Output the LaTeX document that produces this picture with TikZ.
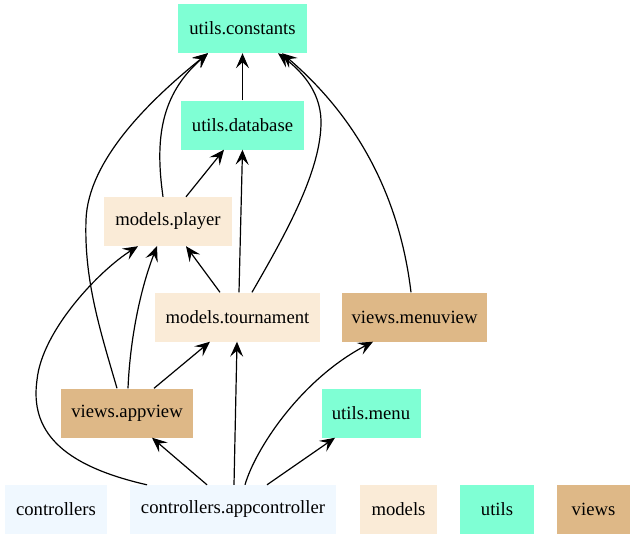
\documentclass[tikz,border=0pt]{standalone}
\usepackage{fontspec}
\setmainfont{Liberation Serif}
\newfontfamily\labelfont{Liberation Serif}
\usetikzlibrary{arrows.meta}
\definecolor{utilscol}{HTML}{7FFFD4}
\definecolor{modelscol}{HTML}{FAEBD7}
\definecolor{viewscol}{HTML}{DEB887}
\definecolor{ctrlcol}{HTML}{F0F8FF}
\tikzset{
  pkg/.style={rectangle, inner sep=0pt, minimum height=49pt,
    font=\labelfont\fontsize{18.67}{22}\selectfont, text=black},
  utilsbox/.style={pkg, fill=utilscol},
  modelsbox/.style={pkg, fill=modelscol},
  viewsbox/.style={pkg, fill=viewscol},
  ctrlbox/.style={pkg, fill=ctrlcol},
  dep/.style={draw=black, line width=1.2pt,
    -{Stealth[length=15pt, width=13pt, inset=6pt]}},
}
\begin{document}
\begin{tikzpicture}[x=1pt, y=-1pt]
\useasboundingbox (0,0) rectangle (635,539);

% modules
\node[utilsbox, minimum width=129pt] (constants) at (242.5,28.5) {utils.constants};
\node[utilsbox, minimum width=123pt] (database) at (242.5,125) {utils.database};
\node[modelsbox, minimum width=128pt] (player) at (168,221.5) {models.player};
\node[modelsbox, minimum width=165pt] (tournament) at (237.5,317) {models.tournament};
\node[viewsbox, minimum width=145pt] (menuview) at (414.5,317) {views.menuview};
\node[viewsbox, minimum width=132pt] (appview) at (127,413) {views.appview};
\node[utilsbox, minimum width=99pt] (menu) at (371,413) {utils.menu};
\node[ctrlbox, minimum width=102pt] (controllers) at (56,509.5) {controllers};
\node[ctrlbox, minimum width=206pt] (appcontroller) at (233,509.5) {controllers.appcontroller};

% package legend
\node[modelsbox, minimum width=77pt] (models) at (398.5,509.5) {models};
\node[utilsbox, minimum width=74pt] (utils) at (497,509.5) {utils};
\node[viewsbox, minimum width=73pt] (views) at (593.5,509.5) {views};

% imports
\draw[dep] (database.north) -- (constants.south);
\draw[dep] ([xshift=-5pt]player.north)
  .. controls (155,140) and (160,95) .. ([xshift=-34.5pt]constants.south);
\draw[dep] ([xshift=18pt]player.north) -- ([xshift=-18.5pt]database.south);
\draw[dep] ([xshift=1.5pt]tournament.north) -- (database.south);
\draw[dep] ([xshift=14.5pt]tournament.north)
  .. controls (285,235) and (322,170) .. (321,120)
  .. controls (320,90) and (300,70) .. ([xshift=35.5pt]constants.south);
\draw[dep] ([xshift=-17.5pt]tournament.north) -- ([xshift=18pt]player.south);
\draw[dep] ([xshift=-3.5pt]menuview.north)
  .. controls (400,200) and (360,120) .. ([xshift=39.5pt]constants.south);
\draw[dep] ([xshift=-10pt]appview.north)
  .. controls (100,330) and (84,280) .. (86,220)
  .. controls (88,160) and (150,100) .. ([xshift=-34.5pt]constants.south);
\draw[dep] ([xshift=1pt]appview.north)
  .. controls (130,340) and (140,290) .. ([xshift=-11pt]player.south);
\draw[dep] ([xshift=27pt]appview.north) -- ([xshift=-27.5pt]tournament.south);
\draw[dep] ([xshift=-26pt]appcontroller.north) -- ([xshift=25pt]appview.south);
\draw[dep] ([xshift=1pt]appcontroller.north) -- ([xshift=-0.5pt]tournament.south);
\draw[dep] ([xshift=12pt]appcontroller.north)
  .. controls (255,450) and (300,380) .. ([xshift=-41.5pt]menuview.south);
\draw[dep] ([xshift=34pt]appcontroller.north) -- ([xshift=-36pt]menu.south);
\draw[dep] ([xshift=-86pt]appcontroller.north)
  .. controls (60,465) and (30,430) .. (37,380)
  .. controls (42,330) and (100,270) .. ([xshift=-30pt]player.south);
\end{tikzpicture}
\end{document}
